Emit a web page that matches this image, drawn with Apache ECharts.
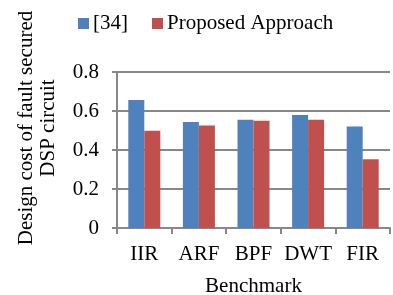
<!DOCTYPE html>
<html>
<head>
<meta charset="utf-8">
<script src="https://cdn.jsdelivr.net/npm/echarts@6/dist/echarts.min.js"></script>
<style>html,body{margin:0;padding:0;background:#fff}#c{width:393px;height:295px}</style>
</head>
<body>
<div id="c"></div>
<script>
const categories = ['IIR', 'ARF', 'BPF', 'DWT', 'FIR'];
const seriesNames = ['[34]', 'Proposed Approach'];
const ref34 = [0.656, 0.544, 0.555, 0.579, 0.521];
const proposed = [0.499, 0.526, 0.550, 0.555, 0.352];
const yTicks = [0, 0.2, 0.4, 0.6, 0.8];

const FONT = "'Liberation Serif', 'Times New Roman', serif";
const chart = echarts.init(document.getElementById('c'));
chart.setOption({
  animation: false,
  textStyle: { fontFamily: FONT },
  legend: {
    left: 78, top: 13, padding: 0,
    itemWidth: 11, itemHeight: 11, itemGap: 24,
    textStyle: { fontFamily: FONT, fontSize: 21, color: '#000', padding: [0, 0, 0, -1] },
    icon: 'rect',
    data: seriesNames
  },
  grid: { left: 117, right: 3, top: 72, bottom: 67, containLabel: false, outerBoundsMode: 'none' },
  xAxis: {
    type: 'category',
    data: categories,
    name: 'Benchmark',
    nameLocation: 'middle',
    nameGap: 48,
    nameTextStyle: { fontFamily: FONT, fontSize: 21, color: '#000' },
    axisLine: { lineStyle: { color: '#878787', width: 2 } },
    axisTick: { show: true, length: 6, lineStyle: { color: '#878787', width: 2 } },
    axisLabel: { fontFamily: FONT, fontSize: 21, color: '#000', margin: 16, interval: 0 }
  },
  yAxis: {
    type: 'value',
    min: 0, max: 0.8, interval: 0.2,
    name: 'Design cost of fault secured\nDSP circuit',
    nameLocation: 'middle',
    nameGap: 58,
    nameTextStyle: { fontFamily: FONT, fontSize: 21, color: '#000', lineHeight: 22, padding: [0, 0, 0, 44] },
    axisLine: { show: true, lineStyle: { color: '#878787', width: 2 } },
    axisTick: { show: true, length: 5, lineStyle: { color: '#878787', width: 2 } },
    splitLine: { lineStyle: { color: '#878787', width: 2 } },
    axisLabel: {
      fontFamily: FONT, fontSize: 21, color: '#000', margin: 18,
      formatter: v => (yTicks.includes(Math.round(v * 10) / 10) ? (v === 0 ? '0' : v.toFixed(1)) : '')
    }
  },
  series: [
    { name: seriesNames[0], type: 'bar', data: ref34, barWidth: 16, barGap: '0%', itemStyle: { color: '#4F81BD' } },
    { name: seriesNames[1], type: 'bar', data: proposed, barWidth: 16, itemStyle: { color: '#C0504D' } }
  ]
});
</script>
</body>
</html>
